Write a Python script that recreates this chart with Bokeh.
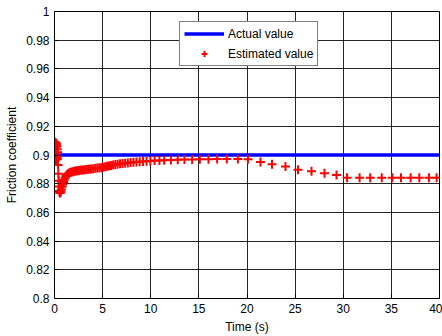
from bokeh.plotting import figure
from bokeh.models import (Range1d, FixedTicker, CustomJSTickFormatter,
                          Legend, LegendItem)
from bokeh.embed import file_html
from bokeh.resources import INLINE

# Actual friction coefficient (constant)
actual_time = [0.0, 40.0]
actual_value = [0.9, 0.9]

# Estimated friction coefficient samples
est_time = [
    0.00, 0.02, 0.04, 0.06, 0.08, 0.10, 0.12, 0.14, 0.16, 0.18,
    0.20, 0.22, 0.24, 0.26, 0.28, 0.30, 0.32, 0.34, 0.37, 0.40,
    0.43, 0.46, 0.50, 0.55, 0.60, 0.66, 0.72, 0.79, 0.86, 0.94,
    1.02, 1.11, 1.20, 1.30, 1.41, 1.52, 1.64, 1.77, 1.90, 2.04,
    2.18, 2.33, 2.48, 2.64, 2.80, 2.97, 3.14, 3.32, 3.50, 3.68,
    3.87, 4.06, 4.26, 4.46, 4.66, 4.86, 5.06, 5.26, 5.46, 5.66,
    5.87, 6.09, 6.32, 6.56, 6.81, 7.07, 7.34, 7.62, 7.91, 8.21,
    8.52, 8.85, 9.20, 9.57, 9.96, 10.40, 10.90, 11.40, 12.10, 12.80,
    13.50, 14.30, 15.10, 16.00, 16.90, 17.90, 19.05, 20.10, 21.40, 22.60,
    24.00, 25.30, 26.70, 28.05, 29.30, 30.40, 31.70, 32.80, 34.00, 35.10,
    36.00, 37.00, 37.90, 38.90, 39.70,
]
est_value = [
    0.8985, 0.9050, 0.9090, 0.9010, 0.8965, 0.9060, 0.9085, 0.8990, 0.8970, 0.9070,
    0.9080, 0.8985, 0.8975, 0.9060, 0.9040, 0.8970, 0.8990, 0.9020, 0.8930, 0.8870,
    0.8820, 0.8780, 0.8750, 0.8737, 0.8736, 0.8745, 0.8760, 0.8778, 0.8795, 0.8812,
    0.8828, 0.8842, 0.8853, 0.8862, 0.8869, 0.8874, 0.8878, 0.8881, 0.8884, 0.8886,
    0.8888, 0.8890, 0.8891, 0.8893, 0.8895, 0.8896, 0.8898, 0.8899, 0.8900, 0.8902,
    0.8903, 0.8905, 0.8907, 0.8909, 0.8911, 0.8912, 0.8915, 0.8918, 0.8921, 0.8924,
    0.8927, 0.8930, 0.8933, 0.8936, 0.8939, 0.8941, 0.8943, 0.8945, 0.8947, 0.8949,
    0.8951, 0.8953, 0.8955, 0.8957, 0.8959, 0.8961, 0.8962, 0.8964, 0.8965, 0.8967,
    0.8968, 0.8969, 0.8970, 0.8971, 0.8972, 0.8972, 0.8972, 0.8970, 0.8951, 0.8935,
    0.8919, 0.8898, 0.8887, 0.8873, 0.8861, 0.8842, 0.8842, 0.8842, 0.8842, 0.8842,
    0.8842, 0.8842, 0.8842, 0.8842, 0.8842,
]

x_ticks = [0, 5, 10, 15, 20, 25, 30, 35, 40]
y_ticks = [0.8, 0.82, 0.84, 0.86, 0.88, 0.9, 0.92, 0.94, 0.96, 0.98, 1.0]

FONT = "Liberation Sans"

p = figure(width=442, height=336, output_backend="svg", toolbar_location=None,
           x_range=Range1d(0, 40), y_range=Range1d(0.8, 1.0),
           min_border_left=54, min_border_right=3, min_border_top=11,
           min_border_bottom=37, x_axis_label="Time (s)",
           y_axis_label="Friction coefficient")
p.background_fill_color = "white"
p.border_fill_color = "white"
p.outline_line_color = "black"
p.outline_line_width = 1

fmt = CustomJSTickFormatter(code="return String(Math.round(tick * 100) / 100);")

for ax in (p.xaxis[0], p.yaxis[0]):
    ax.major_label_text_font = FONT
    ax.major_label_text_font_size = "12px"
    ax.major_label_text_color = "black"
    ax.axis_label_text_font = FONT
    ax.axis_label_text_font_size = "12px"
    ax.axis_label_text_font_style = "normal"
    ax.axis_label_text_color = "black"
    ax.major_tick_in = 4
    ax.major_tick_out = 0
    ax.minor_tick_in = 0
    ax.minor_tick_out = 0
    ax.axis_line_color = "black"
    ax.major_tick_line_color = "black"
    ax.formatter = fmt

p.xaxis[0].ticker = FixedTicker(ticks=x_ticks)
p.yaxis[0].ticker = FixedTicker(ticks=y_ticks)
p.xaxis[0].major_label_standoff = 5
p.xaxis[0].axis_label_standoff = 4
p.yaxis[0].major_label_standoff = 5
p.yaxis[0].axis_label_standoff = 4

for g in (p.xgrid[0], p.ygrid[0]):
    g.grid_line_color = "black"
    g.grid_line_alpha = 0.85
    g.grid_line_width = 1

r_actual = p.line(actual_time, actual_value, line_color="#0000ff", line_width=3.5)
r_est = p.scatter(est_time, est_value, marker="cross", size=9, line_color="#ff0000",
                  line_width=2)

legend = Legend(items=[LegendItem(label="Actual value", renderers=[r_actual]),
                       LegendItem(label="Estimated value", renderers=[r_est])],
                location=(125, 232), orientation="vertical",
                label_text_font=FONT, label_text_font_size="12px",
                label_text_color="black", glyph_width=40, glyph_height=15,
                label_height=15, label_standoff=4, spacing=5, padding=4,
                margin=0, border_line_color="black", border_line_width=1,
                background_fill_color="white", background_fill_alpha=1.0)
p.add_layout(legend, "center")

open("out.html", "w").write(file_html(p, INLINE))
